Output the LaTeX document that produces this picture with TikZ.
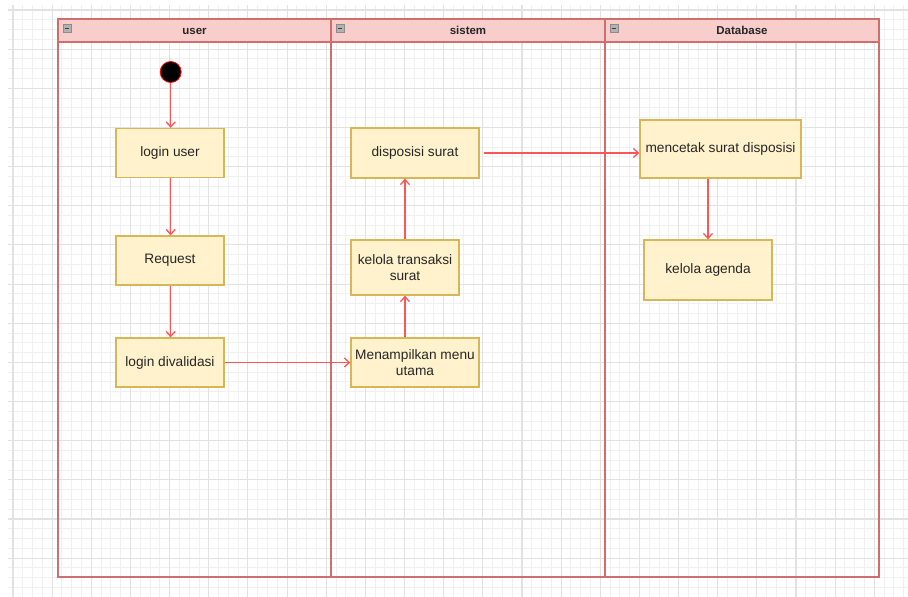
\documentclass[tikz,border=0pt]{standalone}
\usepackage{fontspec}
\setmainfont{Liberation Sans}
\usetikzlibrary{arrows.meta}
\definecolor{gridminor}{HTML}{F0F0F0}
\definecolor{gridmajor}{HTML}{E2E2E2}
\definecolor{lanestroke}{HTML}{D06E6E}
\definecolor{lanefill}{HTML}{F8CECC}
\definecolor{actfill}{HTML}{FFF2CC}
\definecolor{actstroke}{HTML}{D6B656}
\definecolor{flow}{HTML}{FF5555}
\tikzset{
  act/.style={draw=actstroke, fill=actfill, line width=1.3pt, inner sep=0pt, align=center,
    font=\fontsize{13.7}{16.5}\selectfont, text=black!85, yshift=-1pt},
  lanehead/.style={font=\bfseries\fontsize{11.5}{13}\selectfont, text=black!85, anchor=base},
  flowarrow/.style={draw=flow, line width=1.3pt, -{Straight Barb[length=5pt,width=9pt]}},
}
\begin{document}
\begin{tikzpicture}[x=1pt,y=-1pt]
\useasboundingbox (0,0) rectangle (908,597);
\fill[white] (0,0) rectangle (908,597);
% grid
\begin{scope}
\clip (8,5) rectangle (908,597);
\foreach \i in {-1,...,92} {
  \draw[gridminor, line width=0.9pt] ({13+\i*9.7875},0) -- ({13+\i*9.7875},597);
}
\foreach \i in {-1,...,61} {
  \draw[gridminor, line width=0.9pt] (0,{10+\i*9.7875}) -- (908,{10+\i*9.7875});
}
\foreach \i in {0,...,23} {
  \draw[gridmajor, line width=1.1pt] ({13+\i*39.15},0) -- ({13+\i*39.15},597);
}
\foreach \i in {0,...,15} {
  \draw[gridmajor, line width=1.1pt] (0,{10+\i*39.15}) -- (908,{10+\i*39.15});
}
\end{scope}
% pool
\fill[lanefill] (58,19) rectangle (879,42);
\draw[lanestroke, line width=1.4pt] (58,19) rectangle (879,577);
\draw[lanestroke, line width=1.2pt] (58,42) -- (879,42);
\draw[lanestroke, line width=1.2pt] (331,19) -- (331,577);
\draw[lanestroke, line width=1.2pt] (605,19) -- (605,577);
\node[lanehead] (huser) at (194.5,34.5) {user};
\node[lanehead] (hsistem) at (468,34.5) {sistem};
\node[lanehead] (hdb) at (742,34.5) {Database};
\foreach \x/\n in {63/m1,336/m2,610/m3} {
  \draw[fill=black!30, draw=black!45, line width=0.5pt] (\x,24) rectangle ++(8,8);
  \draw[black!75, line width=1pt] (\x+1.8,28) -- ++(4.4,0);
}
% start
\node[circle, fill=black, draw=red, line width=0.8pt, minimum size=21pt, inner sep=0pt] (start) at (170.7,72) {};
% activities
\node[act, minimum width=108pt, minimum height=49pt] (login) at (170,152) {login user};
\node[act, minimum width=108pt, minimum height=49pt] (req) at (170,259.5) {Request};
\node[act, minimum width=108pt, minimum height=49pt] (valid) at (170,361.5) {login divalidasi};
\node[act, minimum width=128pt, minimum height=49pt] (menu) at (415,361.5) {Menampilkan menu\\utama};
\node[act, minimum width=108pt, minimum height=55pt] (kelola) at (405,266.5) {kelola transaksi\\surat};
\node[act, minimum width=128pt, minimum height=50pt] (dispo) at (415,152) {disposisi surat};
\node[act, minimum width=161pt, minimum height=58pt] (cetak) at (720.5,148) {mencetak surat disposisi};
\node[act, minimum width=128pt, minimum height=60pt] (agenda) at (708,269) {kelola agenda};
% flows
\draw[flowarrow] (start) -- (login.north -| start);
\draw[flowarrow] (login.south -| start) -- (req.north -| start);
\draw[flowarrow] (req.south -| start) -- (valid.north -| start);
\draw[flowarrow] (valid.east) -- (menu.west);
\draw[flowarrow] (menu.north -| kelola) -- (kelola.south);
\draw[flowarrow] (kelola.north) -- (dispo.south -| kelola);
\draw[flowarrow] ([xshift=4pt]dispo.east) -- (cetak.west |- dispo.east);
\draw[flowarrow] (cetak.south -| agenda) -- (agenda.north);
\end{tikzpicture}
\end{document}
